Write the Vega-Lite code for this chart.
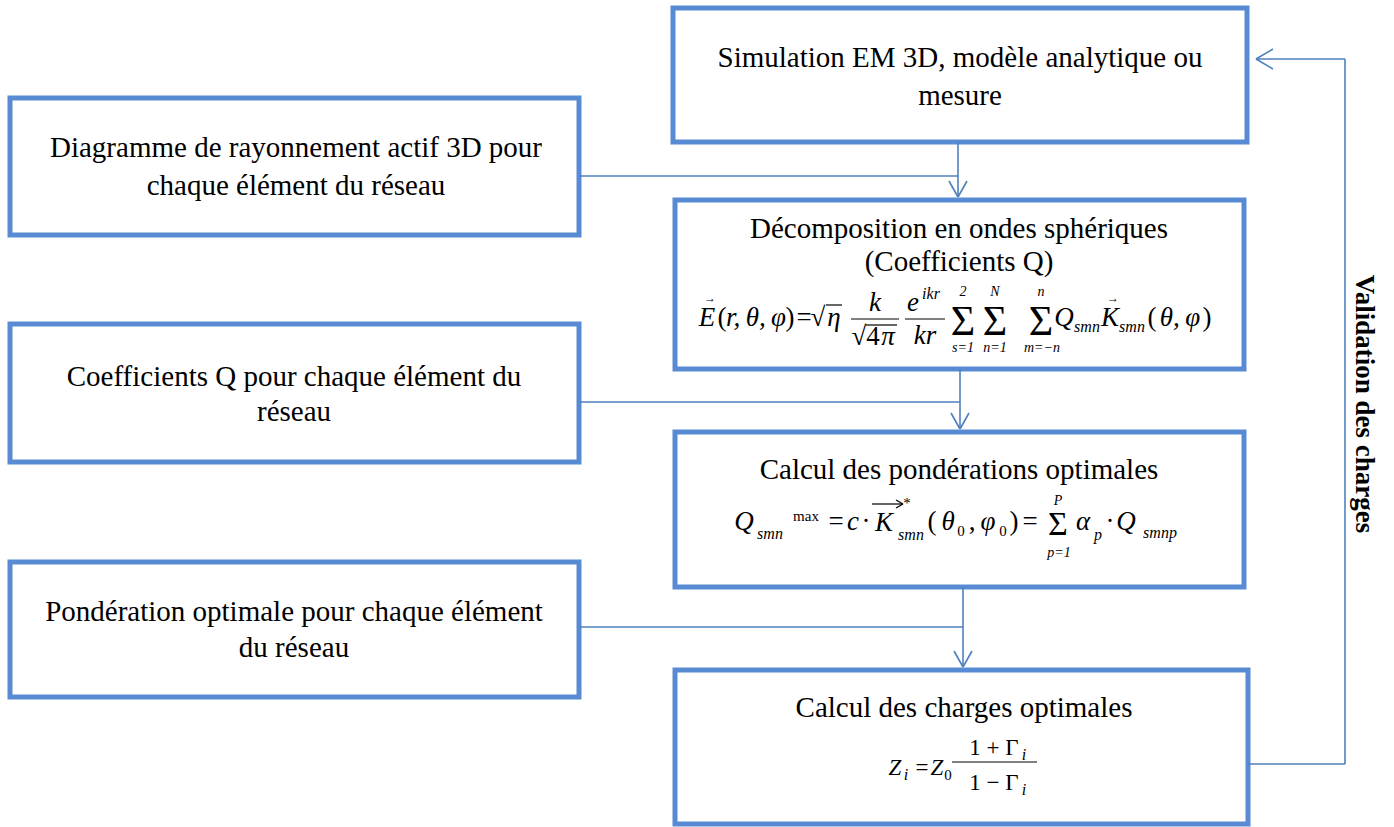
{
  "$schema": "https://vega.github.io/schema/vega-lite/v6.json",
  "width": 1394,
  "height": 827,
  "padding": 0,
  "autosize": {"type": "none"},
  "background": "white",
  "config": {"view": {"stroke": null}},
  "datasets": {
    "boxes": [
      {"id": "A", "x": 673, "x2": 1247, "y": 8, "y2": 142},
      {"id": "B", "x": 10, "x2": 579, "y": 98, "y2": 235},
      {"id": "C", "x": 675, "x2": 1244, "y": 200, "y2": 369},
      {"id": "D", "x": 10, "x2": 579, "y": 324, "y2": 462},
      {"id": "E", "x": 675, "x2": 1244, "y": 432, "y2": 587},
      {"id": "F", "x": 10, "x2": 579, "y": 562, "y2": 697},
      {"id": "G", "x": 675, "x2": 1248, "y": 670, "y2": 824}
    ],
    "segments": [
      {"kind": "connector", "x": 958, "y": 142, "x2": 958, "y2": 197},
      {"kind": "connector", "x": 579, "y": 176, "x2": 958, "y2": 176},
      {"kind": "connector", "x": 949, "y": 181, "x2": 958, "y2": 197},
      {"kind": "connector", "x": 967, "y": 181, "x2": 958, "y2": 197},
      {"kind": "connector", "x": 960, "y": 369, "x2": 960, "y2": 429},
      {"kind": "connector", "x": 579, "y": 402, "x2": 960, "y2": 402},
      {"kind": "connector", "x": 951, "y": 413, "x2": 960, "y2": 429},
      {"kind": "connector", "x": 969, "y": 413, "x2": 960, "y2": 429},
      {"kind": "connector", "x": 963, "y": 587, "x2": 963, "y2": 667},
      {"kind": "connector", "x": 579, "y": 627, "x2": 963, "y2": 627},
      {"kind": "connector", "x": 954, "y": 651, "x2": 963, "y2": 667},
      {"kind": "connector", "x": 972, "y": 651, "x2": 963, "y2": 667},
      {"kind": "connector", "x": 1248, "y": 764, "x2": 1345, "y2": 764},
      {"kind": "connector", "x": 1345, "y": 764, "x2": 1345, "y2": 59},
      {"kind": "connector", "x": 1345, "y": 59, "x2": 1256, "y2": 59},
      {"kind": "connector", "x": 1273, "y": 49, "x2": 1256, "y2": 59},
      {"kind": "connector", "x": 1273, "y": 69, "x2": 1256, "y2": 59},
      {"kind": "math", "x": 826, "y": 305, "x2": 842, "y2": 305},
      {"kind": "math", "x": 851, "y": 319, "x2": 899, "y2": 319},
      {"kind": "math", "x": 866, "y": 325, "x2": 897, "y2": 325},
      {"kind": "math", "x": 905, "y": 319, "x2": 945, "y2": 319},
      {"kind": "math", "x": 872, "y": 504, "x2": 903, "y2": 504},
      {"kind": "math", "x": 896, "y": 500, "x2": 903, "y2": 504},
      {"kind": "math", "x": 896, "y": 508, "x2": 903, "y2": 504},
      {"kind": "math", "x": 952, "y": 762, "x2": 1037, "y2": 762}
    ],
    "texts": [
      {"r": "title", "t": "Simulation EM 3D, modèle analytique ou", "x": 960, "y": 58},
      {"r": "title", "t": "mesure", "x": 960, "y": 96},
      {"r": "title", "t": "Diagramme de rayonnement actif 3D pour", "x": 296, "y": 148},
      {"r": "title", "t": "chaque élément du réseau", "x": 296, "y": 186},
      {"r": "title", "t": "Décomposition en ondes sphériques", "x": 959, "y": 229},
      {"r": "title", "t": "(Coefficients Q)", "x": 959, "y": 262},
      {"r": "title", "t": "Coefficients Q pour chaque élément du", "x": 294, "y": 377},
      {"r": "title", "t": "réseau", "x": 294, "y": 412},
      {"r": "title", "t": "Calcul des pondérations optimales", "x": 959, "y": 470},
      {"r": "title", "t": "Pondération optimale pour chaque élément", "x": 294, "y": 612},
      {"r": "title", "t": "du réseau", "x": 294, "y": 648},
      {"r": "title", "t": "Calcul des charges optimales", "x": 964, "y": 708},
      {"r": "side", "t": "Validation des charges", "x": 1364, "y": 404},

      {"r": "math", "t": "E", "x": 707, "y": 326},
      {"r": "acc", "t": "→", "x": 710, "y": 302},
      {"r": "up", "t": "(", "x": 722, "y": 326},
      {"r": "math", "t": "r,\u2009θ,\u2009φ", "x": 756, "y": 326},
      {"r": "up", "t": ")", "x": 790, "y": 326},
      {"r": "up", "t": "=", "x": 804, "y": 326},
      {"r": "up", "t": "√", "x": 818, "y": 326},
      {"r": "math", "t": "η", "x": 834, "y": 326},
      {"r": "math", "t": "k", "x": 875, "y": 311},
      {"r": "up", "t": "√", "x": 859, "y": 345},
      {"r": "up", "t": "4", "x": 873, "y": 345},
      {"r": "math", "t": "π", "x": 888, "y": 345},
      {"r": "math", "t": "e", "x": 913, "y": 311},
      {"r": "idx", "t": "ikr", "x": 931, "y": 299},
      {"r": "math", "t": "kr", "x": 925, "y": 344},
      {"r": "sum", "t": "Σ", "x": 963, "y": 335},
      {"r": "lim", "t": "2", "x": 963, "y": 296},
      {"r": "lim", "t": "s=1", "x": 963, "y": 352},
      {"r": "sum", "t": "Σ", "x": 995, "y": 335},
      {"r": "lim", "t": "N", "x": 995, "y": 296},
      {"r": "lim", "t": "n=1", "x": 995, "y": 352},
      {"r": "sum", "t": "Σ", "x": 1041, "y": 335},
      {"r": "lim", "t": "n", "x": 1041, "y": 296},
      {"r": "lim", "t": "m=−n", "x": 1042, "y": 352},
      {"r": "math", "t": "Q", "x": 1064, "y": 326},
      {"r": "idx", "t": "smn", "x": 1087, "y": 332},
      {"r": "math", "t": "K", "x": 1110, "y": 326},
      {"r": "acc", "t": "→", "x": 1113, "y": 302},
      {"r": "idx", "t": "smn", "x": 1132, "y": 332},
      {"r": "up", "t": "(", "x": 1152, "y": 326},
      {"r": "math", "t": "θ,\u2009φ", "x": 1180, "y": 326},
      {"r": "up", "t": ")", "x": 1207, "y": 326},

      {"r": "math", "t": "Q", "x": 744, "y": 530},
      {"r": "idx", "t": "smn", "x": 770, "y": 539},
      {"r": "idxUp", "t": "max", "x": 806, "y": 521},
      {"r": "up", "t": "=", "x": 836, "y": 530},
      {"r": "math", "t": "c", "x": 853, "y": 530},
      {"r": "up", "t": "·", "x": 866, "y": 530},
      {"r": "math", "t": "K", "x": 884, "y": 531},
      {"r": "idxUp", "t": "*", "x": 907, "y": 508},
      {"r": "idx", "t": "smn", "x": 911, "y": 540},
      {"r": "up", "t": "(", "x": 932, "y": 530},
      {"r": "math", "t": "θ", "x": 948, "y": 530},
      {"r": "idxUp", "t": "0", "x": 961, "y": 536},
      {"r": "up", "t": ",", "x": 972, "y": 530},
      {"r": "math", "t": "φ", "x": 988, "y": 530},
      {"r": "idxUp", "t": "0", "x": 1003, "y": 536},
      {"r": "up", "t": ")", "x": 1014, "y": 530},
      {"r": "up", "t": "=", "x": 1030, "y": 530},
      {"r": "sumS", "t": "Σ", "x": 1058, "y": 535},
      {"r": "lim", "t": "P", "x": 1058, "y": 505},
      {"r": "lim", "t": "p=1", "x": 1059, "y": 557},
      {"r": "math", "t": "α", "x": 1083, "y": 530},
      {"r": "idx", "t": "p", "x": 1098, "y": 540},
      {"r": "up", "t": "·", "x": 1110, "y": 530},
      {"r": "math", "t": "Q", "x": 1126, "y": 530},
      {"r": "idx", "t": "smnp", "x": 1160, "y": 538},

      {"r": "mathM", "t": "Z", "x": 895, "y": 775},
      {"r": "idx", "t": "i", "x": 906, "y": 780},
      {"r": "upM", "t": "=", "x": 922, "y": 775},
      {"r": "mathM", "t": "Z", "x": 937, "y": 775},
      {"r": "idxUp", "t": "0", "x": 948, "y": 780},
      {"r": "upM", "t": "1 + Γ", "x": 994, "y": 755},
      {"r": "idx", "t": "i", "x": 1024, "y": 760},
      {"r": "upM", "t": "1 − Γ", "x": 994, "y": 790},
      {"r": "idx", "t": "i", "x": 1024, "y": 795}
    ]
  },
  "encoding": {
    "x": {"field": "x", "type": "quantitative", "scale": {"domain": [0, 1394], "range": [0, 1394], "nice": false, "zero": false}, "axis": null},
    "y": {"field": "y", "type": "quantitative", "scale": {"domain": [0, 827], "range": [0, 827], "nice": false, "zero": false}, "axis": null}
  },
  "layer": [
    {
      "data": {"name": "boxes"},
      "mark": {"type": "rect", "fill": "white", "stroke": "#588BD3", "strokeWidth": 5},
      "encoding": {"x2": {"field": "x2"}, "y2": {"field": "y2"}}
    },
    {
      "data": {"name": "segments"},
      "transform": [{"filter": "datum.kind === 'connector'"}],
      "mark": {"type": "rule", "color": "#4F81BD", "strokeWidth": 1.6},
      "encoding": {"x2": {"field": "x2"}, "y2": {"field": "y2"}}
    },
    {
      "data": {"name": "segments"},
      "transform": [{"filter": "datum.kind === 'math'"}],
      "mark": {"type": "rule", "color": "black", "strokeWidth": 1.2},
      "encoding": {"x2": {"field": "x2"}, "y2": {"field": "y2"}}
    },
    {
      "data": {"name": "texts"},
      "transform": [{"filter": "datum.r === 'title'"}],
      "mark": {"type": "text", "font": "Liberation Serif", "fontSize": 29, "align": "center", "baseline": "middle", "color": "black"},
      "encoding": {"text": {"field": "t"}}
    },
    {
      "data": {"name": "texts"},
      "transform": [{"filter": "datum.r === 'side'"}],
      "mark": {"type": "text", "font": "Liberation Serif", "fontSize": 27, "fontWeight": "bold", "angle": 90, "align": "center", "baseline": "middle", "color": "black"},
      "encoding": {"text": {"field": "t"}}
    },
    {
      "data": {"name": "texts"},
      "transform": [{"filter": "datum.r === 'math'"}],
      "mark": {"type": "text", "font": "Liberation Serif", "fontSize": 27, "fontStyle": "italic", "align": "center", "baseline": "alphabetic", "color": "black"},
      "encoding": {"text": {"field": "t"}}
    },
    {
      "data": {"name": "texts"},
      "transform": [{"filter": "datum.r === 'up'"}],
      "mark": {"type": "text", "font": "Liberation Serif", "fontSize": 27, "align": "center", "baseline": "alphabetic", "color": "black"},
      "encoding": {"text": {"field": "t"}}
    },
    {
      "data": {"name": "texts"},
      "transform": [{"filter": "datum.r === 'mathM'"}],
      "mark": {"type": "text", "font": "Liberation Serif", "fontSize": 23, "fontStyle": "italic", "align": "center", "baseline": "alphabetic", "color": "black"},
      "encoding": {"text": {"field": "t"}}
    },
    {
      "data": {"name": "texts"},
      "transform": [{"filter": "datum.r === 'upM'"}],
      "mark": {"type": "text", "font": "Liberation Serif", "fontSize": 23, "align": "center", "baseline": "alphabetic", "color": "black"},
      "encoding": {"text": {"field": "t"}}
    },
    {
      "data": {"name": "texts"},
      "transform": [{"filter": "datum.r === 'idx'"}],
      "mark": {"type": "text", "font": "Liberation Serif", "fontSize": 16, "fontStyle": "italic", "align": "center", "baseline": "alphabetic", "color": "black"},
      "encoding": {"text": {"field": "t"}}
    },
    {
      "data": {"name": "texts"},
      "transform": [{"filter": "datum.r === 'idxUp'"}],
      "mark": {"type": "text", "font": "Liberation Serif", "fontSize": 15, "align": "center", "baseline": "alphabetic", "color": "black"},
      "encoding": {"text": {"field": "t"}}
    },
    {
      "data": {"name": "texts"},
      "transform": [{"filter": "datum.r === 'lim'"}],
      "mark": {"type": "text", "font": "Liberation Serif", "fontSize": 14, "fontStyle": "italic", "align": "center", "baseline": "alphabetic", "color": "black"},
      "encoding": {"text": {"field": "t"}}
    },
    {
      "data": {"name": "texts"},
      "transform": [{"filter": "datum.r === 'sum'"}],
      "mark": {"type": "text", "font": "Liberation Serif", "fontSize": 42, "align": "center", "baseline": "alphabetic", "color": "black"},
      "encoding": {"text": {"field": "t"}}
    },
    {
      "data": {"name": "texts"},
      "transform": [{"filter": "datum.r === 'sumS'"}],
      "mark": {"type": "text", "font": "Liberation Serif", "fontSize": 34, "align": "center", "baseline": "alphabetic", "color": "black"},
      "encoding": {"text": {"field": "t"}}
    },
    {
      "data": {"name": "texts"},
      "transform": [{"filter": "datum.r === 'acc'"}],
      "mark": {"type": "text", "font": "Liberation Serif", "fontSize": 12, "align": "center", "baseline": "alphabetic", "color": "black"},
      "encoding": {"text": {"field": "t"}}
    }
  ]
}
